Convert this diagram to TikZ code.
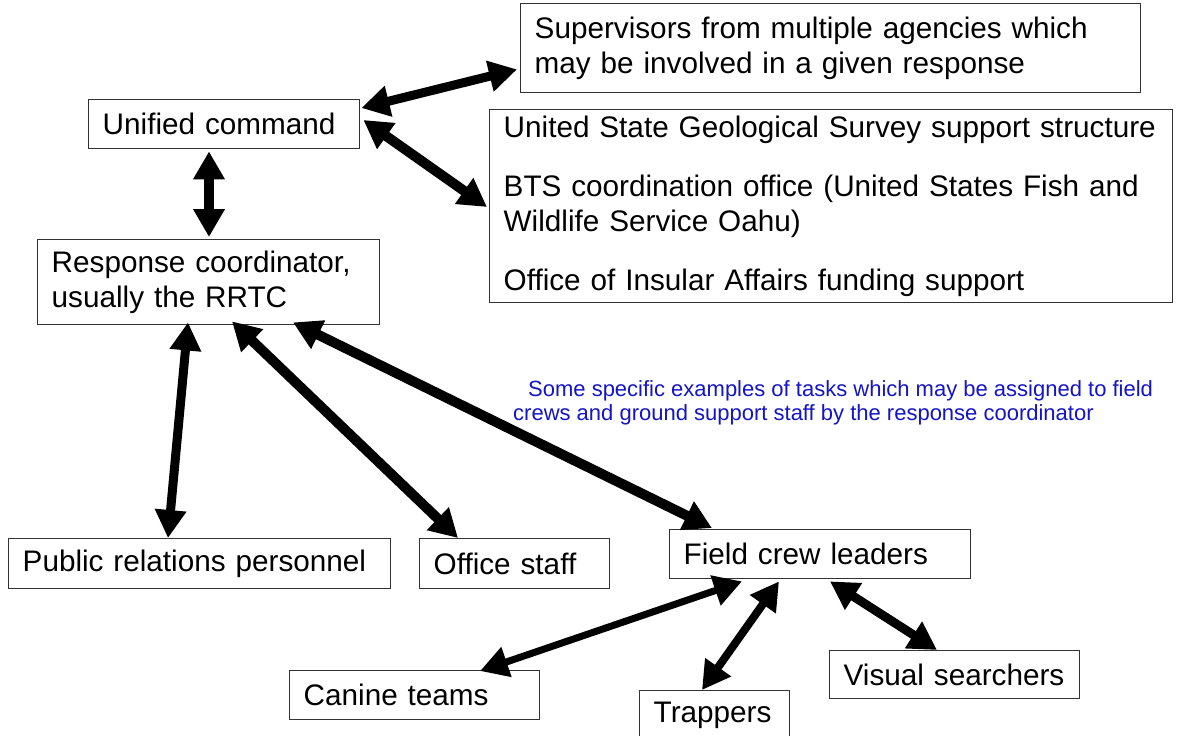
\documentclass[tikz,border=0pt]{standalone}
\usepackage{fontspec}
\setmainfont{Liberation Sans}
\usetikzlibrary{arrows.meta,calc}
\definecolor{boxline}{RGB}{50,50,50}
\definecolor{bluetext}{RGB}{20,20,200}
\tikzset{
  box/.style={draw=boxline, line width=1.4pt, inner xsep=14pt, inner ysep=0pt,
    align=left, anchor=north west, fill=white,
    font=\fontsize{29.7}{35}\selectfont},
  link/.style={line width=9pt,
    {Triangle[length=28pt,width=30pt]}-{Triangle[length=28pt,width=30pt]}},
}
\begin{document}
\begin{tikzpicture}[x=1pt,y=-1pt]
\useasboundingbox[fill=white] (0,0) rectangle (1178,736);

\node[box, text width=592pt, minimum height=89pt] (sup) at (520,3)
  {\mbox{Supervisors from multiple agencies which}\\\mbox{may be involved in a given response}};
\node[box, text width=243pt, minimum height=49pt] (uc) at (88,99) {\mbox{Unified command}};
\node[box, text width=655pt, minimum height=193pt] (usgs) at (489,109)
  {\mbox{United State Geological Survey support structure}\\[24pt]\mbox{BTS coordination office (United States Fish and}\\\mbox{Wildlife Service Oahu)}\\[24pt]\mbox{Office of Insular Affairs funding support}};
\node[box, text width=314pt, minimum height=85pt] (rc) at (37,239)
  {\mbox{Response coordinator,}\\\mbox{usually the RRTC}};
\node[box, text width=354pt, minimum height=50pt] (pr) at (8,538) {\mbox{Public relations personnel}};
\node[box, text width=162pt, minimum height=50pt] (os) at (419,538) {\mbox{Office staff}};
\node[box, text width=273pt, minimum height=49pt] (fc) at (669,529) {\mbox{Field crew leaders}};
\node[box, text width=222pt, minimum height=49pt] (ct) at (289,670) {\mbox{Canine teams}};
\node[box, text width=122pt, minimum height=49pt] (tr) at (639,690) {\mbox{Trappers}};
\node[box, text width=222pt, minimum height=48pt] (vs) at (829,650) {\mbox{Visual searchers}};

\node[anchor=north west, align=left, inner sep=0pt, text=bluetext,
  font=\fontsize{22}{24}\selectfont] (note) at (513,380)
  {\hspace{15pt}Some specific examples of tasks which may be assigned to field\\crews and ground support staff by the response coordinator};

\draw[link] ($(uc.north east)+(1,9)$) -- ($(sup.south west)+(-3,-24)$);
\draw[link, line width=10pt] ($(uc.north east)+(3,21)$) -- ($(usgs.north west)+(-2,98)$);
\draw[link, line width=10pt] ($(uc.south west)+(121,2)$) -- ($(rc.north west)+(172,-2)$);
\draw[link] ($(rc.south west)+(151,-3)$) -- ($(pr.north west)+(160,0)$);
\draw[link, line width=10pt] ($(rc.south west)+(195,-4)$) -- ($(os.north west)+(39,0)$);
\draw[link, line width=10pt] ($(rc.south west)+(256,-3)$) -- ($(fc.north west)+(43,-1)$);
\draw[link, line width=7pt] ($(fc.south west)+(73,2)$) -- ($(ct.north west)+(191,1)$);
\draw[link, line width=8pt] ($(fc.south west)+(110,2)$) -- ($(tr.north west)+(63,0)$);
\draw[link] ($(fc.south west)+(161,2)$) -- ($(vs.north west)+(108,0)$);
\end{tikzpicture}
\end{document}
